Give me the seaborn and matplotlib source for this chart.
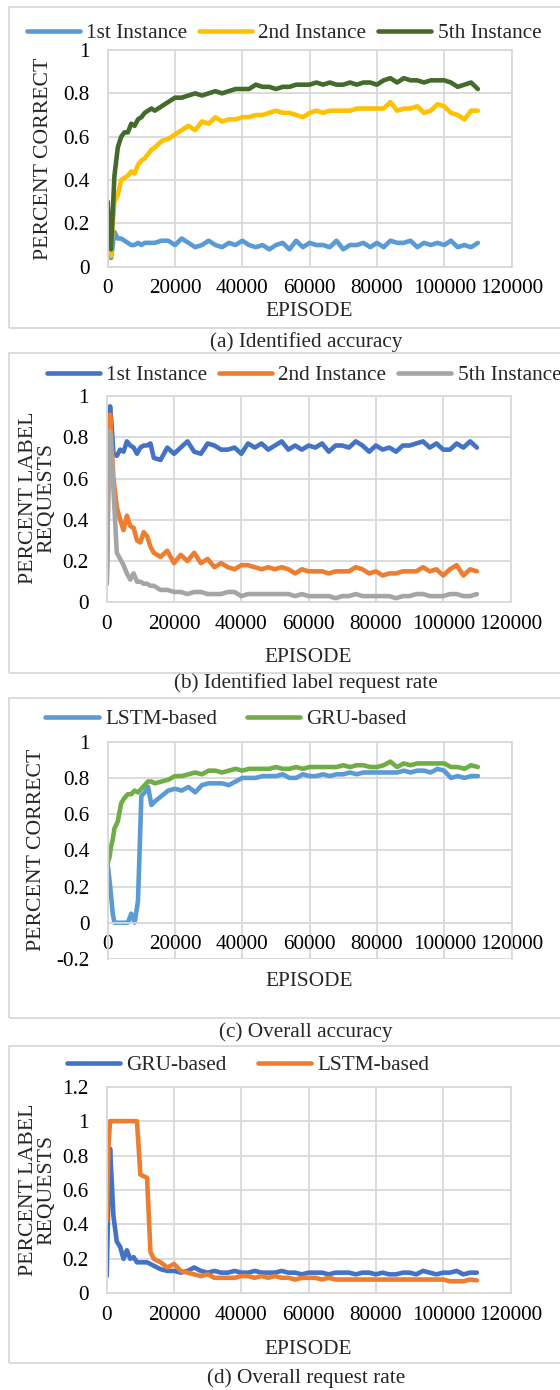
import matplotlib
matplotlib.use("Agg")
import numpy as np
import pandas as pd
import matplotlib.pyplot as plt
import seaborn as sns
from matplotlib.lines import Line2D
from matplotlib.patches import Rectangle

# episode grid shared by all four panels
EPISODES = [0, 500, 1000, 1500, 2000,
            3000, 4000, 5000, 6000, 7000,
            8000, 9000, 10000, 11000, 12000,
            13000, 14000, 16000, 18000, 20000,
            22000, 24000, 26000, 28000, 30000,
            32000, 34000, 36000, 38000, 40000,
            42000, 44000, 46000, 48000, 50000,
            52000, 54000, 56000, 58000, 60000,
            62000, 64000, 66000, 68000, 70000,
            72000, 74000, 76000, 78000, 80000,
            82000, 84000, 86000, 88000, 90000,
            92000, 94000, 96000, 98000, 100000,
            102000, 104000, 106000, 108000, 110000]

# (a) identified accuracy
acc_1st = [0.06, 0.05, 0.04, 0.10, 0.16,
           0.13, 0.13, 0.12, 0.11, 0.10,
           0.10, 0.11, 0.10, 0.11, 0.11,
           0.11, 0.11, 0.12, 0.12, 0.10,
           0.13, 0.11, 0.09, 0.10, 0.12,
           0.10, 0.09, 0.11, 0.10, 0.12,
           0.10, 0.09, 0.10, 0.08, 0.10,
           0.11, 0.08, 0.12, 0.09, 0.11,
           0.10, 0.10, 0.09, 0.12, 0.08,
           0.10, 0.10, 0.11, 0.09, 0.11,
           0.09, 0.12, 0.11, 0.11, 0.12,
           0.09, 0.11, 0.10, 0.11, 0.10,
           0.12, 0.09, 0.10, 0.09, 0.11]
acc_2nd = [0.30, 0.12, 0.05, 0.20, 0.30,
           0.33, 0.40, 0.41, 0.42, 0.44,
           0.43, 0.47, 0.49, 0.50, 0.52,
           0.54, 0.55, 0.58, 0.59, 0.61,
           0.63, 0.65, 0.63, 0.67, 0.66,
           0.69, 0.67, 0.68, 0.68, 0.69,
           0.69, 0.70, 0.70, 0.71, 0.72,
           0.71, 0.71, 0.70, 0.69, 0.71,
           0.72, 0.71, 0.72, 0.72, 0.72,
           0.72, 0.73, 0.73, 0.73, 0.73,
           0.73, 0.76, 0.72, 0.73, 0.73,
           0.74, 0.71, 0.72, 0.75, 0.74,
           0.71, 0.70, 0.68, 0.72, 0.72]
acc_5th = [0.30, 0.12, 0.08, 0.25, 0.42,
           0.55, 0.60, 0.62, 0.62, 0.66,
           0.65, 0.68, 0.69, 0.71, 0.72,
           0.73, 0.72, 0.74, 0.76, 0.78,
           0.78, 0.79, 0.80, 0.79, 0.80,
           0.81, 0.80, 0.81, 0.82, 0.82,
           0.82, 0.84, 0.83, 0.83, 0.82,
           0.83, 0.83, 0.84, 0.84, 0.84,
           0.85, 0.84, 0.85, 0.84, 0.84,
           0.85, 0.84, 0.85, 0.85, 0.84,
           0.86, 0.87, 0.85, 0.87, 0.86,
           0.86, 0.85, 0.86, 0.86, 0.86,
           0.85, 0.83, 0.84, 0.85, 0.82]

# (b) identified label request rate
req_1st = [0.09, 0.80, 0.95, 0.85, 0.72,
           0.71, 0.74, 0.73, 0.78, 0.76,
           0.75, 0.72, 0.75, 0.76, 0.76,
           0.77, 0.70, 0.69, 0.75, 0.72,
           0.75, 0.78, 0.73, 0.72, 0.77,
           0.76, 0.74, 0.74, 0.75, 0.72,
           0.77, 0.75, 0.77, 0.74, 0.76,
           0.78, 0.74, 0.76, 0.74, 0.76,
           0.75, 0.77, 0.73, 0.76, 0.76,
           0.75, 0.78, 0.76, 0.73, 0.76,
           0.74, 0.75, 0.73, 0.76, 0.76,
           0.77, 0.78, 0.75, 0.77, 0.74,
           0.74, 0.77, 0.75, 0.78, 0.75]
req_2nd = [0.09, 0.60, 0.91, 0.75, 0.60,
           0.46, 0.40, 0.35, 0.42, 0.37,
           0.36, 0.30, 0.29, 0.34, 0.32,
           0.27, 0.24, 0.22, 0.25, 0.19,
           0.23, 0.20, 0.24, 0.19, 0.21,
           0.17, 0.19, 0.17, 0.16, 0.18,
           0.18, 0.17, 0.16, 0.17, 0.16,
           0.17, 0.16, 0.14, 0.16, 0.15,
           0.15, 0.15, 0.14, 0.15, 0.15,
           0.15, 0.17, 0.16, 0.14, 0.15,
           0.13, 0.14, 0.14, 0.15, 0.15,
           0.15, 0.17, 0.15, 0.16, 0.13,
           0.16, 0.18, 0.13, 0.16, 0.15]
req_5th = [0.09, 0.55, 0.83, 0.70, 0.55,
           0.24, 0.21, 0.18, 0.14, 0.11,
           0.14, 0.10, 0.10, 0.09, 0.09,
           0.08, 0.08, 0.06, 0.06, 0.05,
           0.05, 0.04, 0.05, 0.05, 0.04,
           0.04, 0.04, 0.05, 0.05, 0.03,
           0.04, 0.04, 0.04, 0.04, 0.04,
           0.04, 0.04, 0.03, 0.04, 0.03,
           0.03, 0.03, 0.03, 0.02, 0.03,
           0.03, 0.04, 0.03, 0.03, 0.03,
           0.03, 0.03, 0.02, 0.03, 0.03,
           0.04, 0.04, 0.03, 0.03, 0.03,
           0.04, 0.04, 0.03, 0.03, 0.04]

# (c) overall accuracy
all_acc_lstm = [0.32, 0.24, 0.15, 0.05, 0.00,
                0.00, 0.00, 0.00, 0.00, 0.05,
                0.00, 0.12, 0.70, 0.72, 0.75,
                0.65, 0.67, 0.70, 0.73, 0.74,
                0.73, 0.75, 0.72, 0.76, 0.77,
                0.77, 0.77, 0.76, 0.78, 0.80,
                0.80, 0.80, 0.81, 0.81, 0.81,
                0.82, 0.80, 0.80, 0.82, 0.81,
                0.81, 0.82, 0.81, 0.82, 0.82,
                0.83, 0.82, 0.83, 0.83, 0.83,
                0.83, 0.83, 0.83, 0.84, 0.83,
                0.84, 0.84, 0.83, 0.85, 0.84,
                0.80, 0.81, 0.80, 0.81, 0.81]
all_acc_gru = [0.33, 0.36, 0.42, 0.46, 0.52,
               0.56, 0.66, 0.69, 0.71, 0.71,
               0.73, 0.72, 0.74, 0.76, 0.78,
               0.78, 0.77, 0.78, 0.79, 0.81,
               0.81, 0.82, 0.83, 0.82, 0.84,
               0.84, 0.83, 0.84, 0.85, 0.84,
               0.85, 0.85, 0.85, 0.85, 0.86,
               0.85, 0.85, 0.86, 0.85, 0.86,
               0.86, 0.86, 0.86, 0.86, 0.87,
               0.86, 0.87, 0.87, 0.86, 0.86,
               0.87, 0.89, 0.86, 0.88, 0.87,
               0.88, 0.88, 0.88, 0.88, 0.88,
               0.86, 0.86, 0.85, 0.87, 0.86]

# (d) overall request rate
all_req_gru = [0.10, 0.55, 0.84, 0.65, 0.45,
               0.30, 0.27, 0.20, 0.25, 0.20,
               0.21, 0.18, 0.18, 0.18, 0.18,
               0.17, 0.16, 0.14, 0.13, 0.13,
               0.12, 0.13, 0.15, 0.13, 0.12,
               0.13, 0.12, 0.12, 0.13, 0.12,
               0.12, 0.13, 0.12, 0.12, 0.12,
               0.13, 0.12, 0.12, 0.11, 0.12,
               0.12, 0.12, 0.11, 0.12, 0.12,
               0.12, 0.11, 0.12, 0.12, 0.11,
               0.12, 0.11, 0.11, 0.12, 0.12,
               0.11, 0.13, 0.12, 0.11, 0.12,
               0.12, 0.13, 0.11, 0.12, 0.12]
all_req_lstm = [0.42, 0.85, 1.00, 1.00, 1.00,
                1.00, 1.00, 1.00, 1.00, 1.00,
                1.00, 1.00, 0.69, 0.68, 0.67,
                0.24, 0.20, 0.18, 0.15, 0.17,
                0.13, 0.12, 0.11, 0.10, 0.11,
                0.09, 0.09, 0.09, 0.09, 0.10,
                0.10, 0.09, 0.10, 0.09, 0.10,
                0.09, 0.09, 0.08, 0.09, 0.09,
                0.09, 0.08, 0.09, 0.08, 0.08,
                0.08, 0.08, 0.08, 0.08, 0.08,
                0.08, 0.08, 0.08, 0.08, 0.08,
                0.08, 0.08, 0.08, 0.08, 0.08,
                0.07, 0.07, 0.07, 0.08, 0.075]

W, H = 560, 1390
FS = 15.3
GRID = "#D9D9D9"

sns.set_theme(style="white")
plt.rcParams["font.family"] = ["Liberation Serif", "DejaVu Serif"]

fig = plt.figure(figsize=(W / 100, H / 100), dpi=100)


def fx(x):
    return x / W


def fy(y):
    return 1 - y / H


def panel(box, frame, series, colors, ylim, yticks, ylabel, ylab_xy,
          leg_xy, colspace, xlab_y, caption, cap_y):
    l, t, r, b = box
    ax = fig.add_axes([fx(l), fy(b), (r - l) / W, (b - t) / H])

    names = list(series.keys())
    df = pd.DataFrame({
        "episode": EPISODES * len(names),
        "value": sum([series[n] for n in names], []),
        "series": sum([[n] * len(EPISODES) for n in names], []),
    })
    sns.lineplot(data=df, x="episode", y="value", hue="series",
                 hue_order=names, palette=colors, linewidth=3.3,
                 legend=False, ax=ax, solid_joinstyle="round",
                 solid_capstyle="round")

    ax.set_xlim(0, 120000)
    ax.set_ylim(*ylim)
    ax.set_xticks(range(0, 120001, 20000))
    ax.set_yticks(yticks)
    ax.set_yticklabels([f"{v:g}" for v in yticks])
    ax.grid(True, color=GRID, linewidth=1.3)
    ax.set_axisbelow(True)
    for s in ax.spines.values():
        s.set_color(GRID)
        s.set_linewidth(1.3)
    if ylim[0] < 0:
        ax.spines["bottom"].set_position(("data", 0))
    ax.tick_params(length=0, labelsize=FS, colors="black")
    ax.tick_params(axis="x", pad=9)
    ax.tick_params(axis="y", pad=13)
    ax.set_xlabel("")
    ax.set_ylabel("")

    handles = [Line2D([], [], color=colors[i], lw=3.3, solid_capstyle="round")
               for i in range(len(names))]
    ax.legend(handles, names, loc="center", bbox_to_anchor=(fx(leg_xy[0]), fy(leg_xy[1])),
              bbox_transform=fig.transFigure, ncol=len(names), frameon=False,
              fontsize=FS, handlelength=2.5, handletextpad=0.3,
              columnspacing=colspace, borderpad=0, borderaxespad=0)

    fig.text(fx(ylab_xy[0]), fy(ylab_xy[1]), ylabel, rotation=90, ha="center",
             va="center", fontsize=FS + 0.4, linespacing=0.95)
    fig.text(fx((l + r) / 2), fy(xlab_y), "EPISODE", ha="center", va="center",
             fontsize=FS)
    fig.text(fx(306), fy(cap_y), caption, ha="center", va="center", fontsize=FS)

    ft, fb = frame
    fig.add_artist(Rectangle((fx(8.6), fy(fb)), (620 - 8.6) / W, (fb - ft) / H,
                             transform=fig.transFigure, fill=False,
                             edgecolor=GRID, linewidth=1.3))
    return ax


panel((107.7, 50, 511.5, 266.7), (7, 328),
      {"1st Instance": acc_1st, "2nd Instance": acc_2nd, "5th Instance": acc_5th},
      ["#5B9BD5", "#FFC000", "#446B2C"], (0, 1), [0, 0.2, 0.4, 0.6, 0.8, 1],
      "PERCENT CORRECT", (44, 159), (284, 33), 0.55, 312,
      "(a) Identified accuracy", 342)

panel((106.7, 396, 510.5, 602.3), (353, 673),
      {"1st Instance": req_1st, "2nd Instance": req_2nd, "5th Instance": req_5th},
      ["#4472C4", "#ED7D31", "#A5A5A5"], (0, 1), [0, 0.2, 0.4, 0.6, 0.8, 1],
      "PERCENT LABEL\nREQUESTS", (38, 498), (304, 375), 0.55, 658,
      "(b) Identified label request rate", 683)

panel((107.7, 741.7, 511.5, 958.9), (698, 1018),
      {"LSTM-based": all_acc_lstm, "GRU-based": all_acc_gru},
      ["#5B9BD5", "#70AD47"], (-0.2, 1), [-0.2, 0, 0.2, 0.4, 0.6, 0.8, 1],
      "PERCENT CORRECT", (37, 850), (226, 719), 1.4, 982,
      "(c) Overall accuracy", 1032)

panel((106.7, 1086.7, 510.5, 1293.3), (1046, 1363),
      {"GRU-based": all_req_gru, "LSTM-based": all_req_lstm},
      ["#4472C4", "#ED7D31"], (0, 1.2), [0, 0.2, 0.4, 0.6, 0.8, 1, 1.2],
      "PERCENT LABEL\nREQUESTS", (38, 1190), (248, 1065), 1.45, 1350,
      "(d) Overall request rate", 1378)

fig.savefig("out.png", dpi=100)
